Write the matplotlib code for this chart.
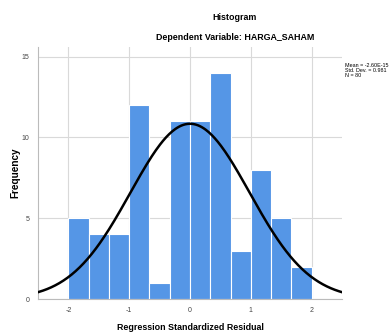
import numpy as np
import matplotlib
matplotlib.use("Agg")
import matplotlib.pyplot as plt

plt.rcParams["font.family"] = ["Liberation Sans", "DejaVu Sans"]
plt.rcParams["axes.unicode_minus"] = False

# ---------------------------------------------------------------- data -----
BIN_EDGES = [-2.0, -5/3, -4/3, -1.0, -2/3, -1/3, 0.0, 1/3, 2/3, 1.0, 4/3, 5/3, 2.0]
COUNTS = [5, 4, 4, 12, 1, 11, 11, 14, 3, 8, 5, 2]
MEAN = -2.60e-15
STD = 0.981
N = 80
X_TICKS = [-2, -1, 0, 1, 2]
Y_TICKS = [0, 5, 10, 15]

BAR_COLOR = "#5596e6"
GRID_COLOR = "#d9d9d9"

fig = plt.figure(figsize=(3.89, 3.33), dpi=100)
ax = fig.add_axes([0.0977, 0.1021, 0.7815, 0.757])

lefts = BIN_EDGES[:-1]
widths = np.diff(BIN_EDGES)
ax.bar(lefts, COUNTS, width=widths, align="edge", color=BAR_COLOR,
       edgecolor="white", linewidth=0.8, zorder=2)

# normal curve scaled to counts
xs = np.linspace(-2.5, 2.5, 300)
bw = widths[0]
pdf = np.exp(-0.5 * ((xs - MEAN) / STD) ** 2) / (STD * np.sqrt(2 * np.pi))
ax.plot(xs, N * bw * pdf, color="black", linewidth=1.8, zorder=3)

ax.set_xlim(-2.5, 2.5)
ax.set_ylim(0, 15.6)
ax.set_xticks(X_TICKS)
ax.set_yticks(Y_TICKS)
ax.tick_params(length=0, labelsize=5, colors="#444444", pad=6)
ax.grid(True, color=GRID_COLOR, linewidth=0.8)
ax.set_axisbelow(True)
for s in ["top", "right"]:
    ax.spines[s].set_visible(False)
for s in ["left", "bottom"]:
    ax.spines[s].set_color("#bbbbbb")
    ax.spines[s].set_linewidth(0.8)

ax.set_xlabel("Regression Standardized Residual", fontsize=6.4,
              fontweight="bold")
ax.set_ylabel("Frequency", fontsize=7.2, fontweight="bold")
ax.xaxis.set_label_coords(0.5, -0.112)
ax.yaxis.set_label_coords(-0.075, 0.5)
ax.xaxis.label.set_va("center")
ax.yaxis.label.set_va("center")

fig.text(0.604, 0.946, "Histogram", ha="center", va="center",
         fontsize=6.4, fontweight="bold")
fig.text(0.604, 0.886, "Dependent Variable: HARGA_SAHAM", ha="center",
         va="center", fontsize=6.4, fontweight="bold")
fig.text(0.886, 0.812, f"Mean = -2.60E-15\nStd. Dev. = {STD}\nN = {N}",
         ha="left", va="top", fontsize=3.9, linespacing=1.0)

fig.savefig("out.png", dpi=100)
